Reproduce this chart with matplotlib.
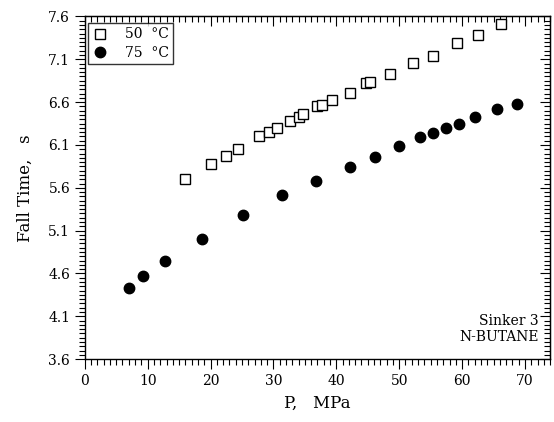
import numpy as np
import matplotlib
matplotlib.use("Agg")
import matplotlib.pyplot as plt

# Fall time vs pressure, n-butane, sinker 3
p_50 = [15.9, 20.0, 22.4, 24.3, 27.7, 29.3, 30.6, 32.6, 34.1, 34.7, 36.9, 37.7,
        39.3, 42.1, 44.8, 45.3, 48.5, 52.2, 55.4, 59.2, 62.5, 66.2]
t_50 = [5.70, 5.88, 5.97, 6.05, 6.20, 6.25, 6.30, 6.38, 6.43, 6.46, 6.55, 6.57,
        6.62, 6.71, 6.82, 6.83, 6.93, 7.06, 7.14, 7.29, 7.38, 7.51]

p_75 = [7.1, 9.3, 12.8, 18.6, 25.2, 31.4, 36.7, 42.1, 46.1, 50.0, 53.3, 55.3,
        57.5, 59.5, 62.1, 65.5, 68.7]
t_75 = [4.43, 4.57, 4.74, 5.00, 5.28, 5.52, 5.68, 5.84, 5.96, 6.09, 6.19, 6.24,
        6.30, 6.35, 6.43, 6.52, 6.58]

x_ticks = [0, 10, 20, 30, 40, 50, 60, 70]
y_ticks = [3.6, 4.1, 4.6, 5.1, 5.6, 6.1, 6.6, 7.1, 7.6]

plt.rcParams['font.family'] = ['DejaVu Serif']

fig = plt.figure(figsize=(5.54, 4.22), dpi=100)
ax = fig.add_axes([0.153, 0.149, 0.840, 0.812])

ax.plot(p_50, t_50, ls="none", marker="s", ms=7, mfc="white", mec="black",
        mew=1.0, label="50  °C")
ax.plot(p_75, t_75, ls="none", marker="o", ms=7.5, mfc="black", mec="black",
        label="75  °C")

ax.set_xlim(0, 74)
ax.set_ylim(3.6, 7.6)
ax.set_xticks(x_ticks)
ax.set_yticks(y_ticks)
ax.set_xticks(np.arange(0, 74.01, 1), minor=True)
ax.set_yticks(np.arange(3.6, 7.601, 0.05), minor=True)
ax.set_yticklabels([f"{v:.1f}" for v in y_ticks])

for s in ax.spines.values():
    s.set_linewidth(1.0)

ax.tick_params(which="both", direction="out", top=False, right=False,
               labelsize=10, width=0.8)
ax.tick_params(which="major", length=7)
ax.tick_params(which="minor", length=4)

# top and right: inward ticks, no labels
sx = ax.secondary_xaxis("top")
sx.set_xticks(x_ticks)
sx.set_xticks(np.arange(0, 74.01, 1), minor=True)
sx.tick_params(which="both", direction="in", labeltop=False, width=0.8)
sx.tick_params(which="major", length=7)
sx.tick_params(which="minor", length=4)
sy = ax.secondary_yaxis("right")
sy.set_yticks(y_ticks)
sy.set_yticks(np.arange(3.6, 7.601, 0.05), minor=True)
sy.tick_params(which="both", direction="in", labelright=False, width=0.8)
sy.tick_params(which="major", length=7)
sy.tick_params(which="minor", length=4)

ax.set_xlabel("P,   MPa", fontsize=12, labelpad=5)
ax.set_ylabel("Fall Time,   s", fontsize=12, labelpad=10)

ax.text(0.975, 0.045, "Sinker 3\nN-BUTANE", transform=ax.transAxes,
        ha="right", va="bottom", fontsize=10, linespacing=1.2)

leg = ax.legend(loc="upper left", bbox_to_anchor=(0.006, 0.98), fontsize=10,
                frameon=True, fancybox=False, edgecolor="black",
                borderaxespad=0, handletextpad=1.2, borderpad=0.3,
                labelspacing=0.3, handlelength=1.2)
leg.get_frame().set_linewidth(1.0)

fig.savefig("out.png", dpi=100)
